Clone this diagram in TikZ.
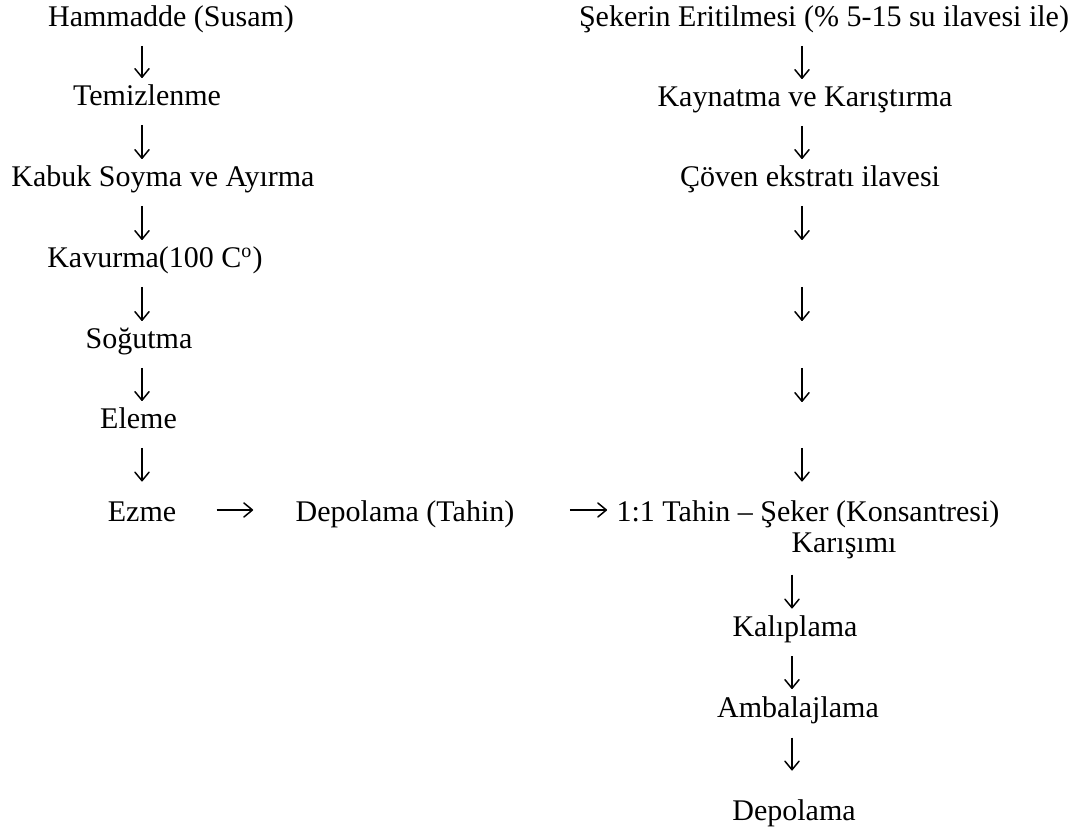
\documentclass[tikz,border=0pt]{standalone}
\usepackage{fontspec}
\setmainfont{Liberation Serif}
\usetikzlibrary{arrows.meta}

\begin{document}
\begin{tikzpicture}[x=0.4pt, y=-0.4pt,
		stage/.style={anchor=base, inner sep=0pt, text height=8pt, text depth=3pt, font=\fontsize{12pt}{14pt}\selectfont},
		flow/.style={-{Straight Barb[length=3.4pt,width=5.6pt,round]}, line width=0.6pt, shorten <=4.4pt, shorten >=3pt}]
		\useasboundingbox (0,0) rectangle (1081,832);
		
		\node[stage] (1) at (171,27) {Hammadde (Susam)};
		\node[stage] (2) at (147,106) {Temizlenme};
		\node[stage] (3) at (163,187) {Kabuk Soyma ve Ayırma};
		\node[stage] (4) at (155,268) {Kavurma(100 C\textsuperscript{o})};
		\node[stage] (5) at (139,349) {Soğutma};
		\node[stage] (6) at (138.5,429) {Eleme};
		\node[stage] (7) at (142,522) {Ezme};
		\node[stage] (8) at (405,522) {Depolama (Tahin)};
		\node[stage] (9) at (824,27) {Şekerin Eritilmesi (\% 5-15 su ilavesi ile)};
		\node[stage] (10) at (805,107) {Kaynatma ve Karıştırma};
		\node[stage] (11) at (810,187) {Çöven ekstratı ilavesi};
		\node[stage] (12) at (808,522) {1:1 Tahin – Şeker (Konsantresi)};
		\node[stage] (13) at (844,552) {Karışımı};
		\node[stage] (14) at (795,637) {Kalıplama};
		\node[stage] (15) at (798,717) {Ambalajlama};
		\node[stage] (16) at (794,820) {Depolama};
		
		\coordinate (L) at (142,0);
		\coordinate (R) at (802,0);
		\coordinate (B) at (792,0);
		\coordinate (c1) at (802,263);
		\coordinate (c2) at (802,344);
		\coordinate (c3) at (802,425);
		
		\draw[flow] (1.south -| L) to (2.north -| L);
		\draw[flow] (2.south -| L) to (3.north -| L);
		\draw[flow] (3.south -| L) to (4.north -| L);
		\draw[flow] (4.south -| L) to (5.north -| L);
		\draw[flow] (5.south -| L) to (6.north -| L);
		\draw[flow, shorten >=8pt] (6.south -| L) to (7.north -| L);
		\draw[flow, shorten <=16pt, shorten >=16.8pt] ([yshift=4.8pt]7.base east) to ([yshift=4.8pt]8.base west);
		\draw[flow, shorten <=22pt, shorten >=3.6pt] ([yshift=4.8pt]8.base east) to ([yshift=4.8pt]12.base west);
		\draw[flow] (9.south -| R) to (10.north -| R);
		\draw[flow] (10.south -| R) to (11.north -| R);
		\draw[flow, shorten >=9.2pt] (11.south -| R) to (c1);
		\draw[flow, shorten <=9.6pt, shorten >=9.2pt] (c1) to (c2);
		\draw[flow, shorten <=9.6pt, shorten >=9.2pt] (c2) to (c3);
		\draw[flow, shorten <=9.2pt, shorten >=8pt] (c3) to (12.north -| R);
		\draw[flow, shorten <=5.8pt, shorten >=3.2pt] (13.south -| B) to (14.north -| B);
		\draw[flow] (14.south -| B) to (15.north -| B);
		\draw[flow, shorten <=5pt, shorten >=11.6pt] (15.south -| B) to (16.north -| B);
		
	\end{tikzpicture}
\end{document}
